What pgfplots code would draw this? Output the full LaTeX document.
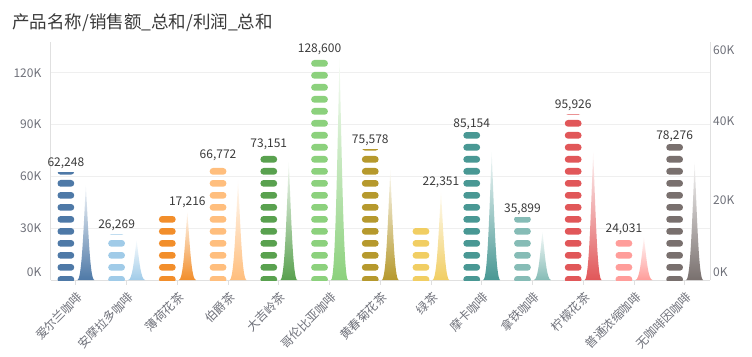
\documentclass[border=0pt]{standalone}
\usepackage{fontspec}
\setmainfont{Noto Sans CJK SC}
\usepackage{pgfplots}
\usepackage{pgfplotstable}
\pgfplotsset{compat=1.18}
\definecolor{c0}{HTML}{4E79A7}
\definecolor{c1}{HTML}{A0CBE8}
\definecolor{c2}{HTML}{F28E2B}
\definecolor{c3}{HTML}{FFBE7D}
\definecolor{c4}{HTML}{59A14F}
\definecolor{c5}{HTML}{8CD17D}
\definecolor{c6}{HTML}{B6992D}
\definecolor{c7}{HTML}{F1CE63}
\definecolor{c8}{HTML}{499894}
\definecolor{c9}{HTML}{86BCB6}
\definecolor{c10}{HTML}{E15759}
\definecolor{c11}{HTML}{FF9D9A}
\definecolor{c12}{HTML}{79706E}
\definecolor{tickc}{HTML}{6E7079}
\definecolor{labc}{HTML}{3A3A3A}
\definecolor{gridc}{HTML}{EFEFEF}
\definecolor{axisc}{HTML}{E0E0E0}
\pgfdeclareplotmark{void}{}
\newcommand\uL{1.72714}
\newcommand\uR{3.96667}
\newcommand\tfont{\fontsize{12bp}{14bp}\selectfont}
% sales and profit in thousands
\pgfplotstableread{
x sales profit slab plab
0 62.248 23.95 62,248 {}
1 26.269 10.1 26,269 {}
2 37.8 17.216 {} 17,216
3 66.772 25.2 66,772 {}
4 73.151 29.8 73,151 {}
5 128.6 56.0 128,600 {}
6 75.578 27.7 75,578 {}
7 31.0 22.351 {} 22,351
8 85.154 32.3 85,154 {}
9 35.899 12.2 35,899 {}
10 95.926 32.3 95,926 {}
11 24.031 10.9 24,031 {}
12 78.276 29.8 78,276 {}
}\salesprofit
\begin{document}
\begin{tikzpicture}
\useasboundingbox (-50.5bp,-77bp) rectangle (701.5bp,280bp);
\node[anchor=west, inner sep=0pt, font=\fontsize{17.5bp}{20bp}\selectfont, text=labc] at (-38.5bp,257.5bp) {产品名称/销售额\_总和/利润\_总和};
\begin{axis}[
  scale only axis, width=659.5bp, height=238bp,
  xmin=-0.5, xmax=12.5, ymin=0, ymax=137.8,
  clip=false,
  axis x line*=bottom, axis y line*=left,
  axis line style={draw=axisc, line width=0.8bp},
  xtick={0,...,12},
  xticklabels={爱尔兰咖啡,安摩拉多咖啡,薄荷花茶,伯爵茶,大吉岭茶,哥伦比亚咖啡,黄春菊花茶,绿茶,摩卡咖啡,拿铁咖啡,柠檬花茶,普通浓缩咖啡,无咖啡因咖啡},
  x tick style={draw=axisc, line width=0.8bp},
  tick align=outside,
  major tick length=5bp,
  xticklabel style={font=\tfont, text=tickc, inner sep=0pt, anchor=east, xshift=4.5bp, yshift=-10bp, rotate=45},
  ytick={30,60,90,120}, yticklabels={30K,60K,90K,120K},
  extra y ticks={0}, extra y tick labels={0K},
  extra y tick style={yticklabel style={yshift=8bp}, grid=none},
  y tick style={draw=none},
  ymajorgrids, grid style={draw=gridc, line width=0.8bp},
  yticklabel style={font=\tfont, text=tickc, inner sep=0pt, anchor=east, xshift=-4bp},
]
\addplot[scatter, only marks, mark=void, draw=none,
  visualization depends on={y \as \sv},
  visualization depends on={x \as \xv},
  scatter/@pre marker code/.code={%
    \begin{scope}
      \pgfkeys{/pgf/fpu=true,/pgf/fpu/output format=fixed}%
      \pgfmathparse{\sv*\uL}\let\hh\pgfmathresult
      \pgfmathparse{\xv}\let\xf\pgfmathresult
      \pgfkeys{/pgf/fpu=false}%
      \pgfmathtruncatemacro\ci{round(\xf)}%
      \def\cname{c\ci}%
      \path[clip, draw=none] (-18.35bp,0bp) rectangle (-1.65bp,-\hh bp);
      \foreach \k in {0,...,20}{%
        \pgfmathsetmacro\yy{-\hh+12*\k-2.7}%
        \path[fill=\cname, draw=none, rounded corners=3.2bp] (-18.35bp,\yy bp) rectangle ++(16.7bp,6.7bp);
      }
    \end{scope}
  },
  scatter/@post marker code/.code={},
] table[x=x,y=sales] \salesprofit;
\addplot[draw=none, mark=none, nodes near coords, point meta=explicit symbolic,
  nodes near coords style={font=\tfont, text=labc, xshift=-10bp}]
  table[x=x,y=sales,meta=slab] \salesprofit;
\end{axis}
\begin{axis}[
  scale only axis, width=659.5bp, height=238bp,
  xmin=-0.5, xmax=12.5, ymin=0, ymax=60,
  clip=false,
  axis x line=none, axis y line*=right,
  axis line style={draw=axisc, line width=0.8bp},
  ytick={20,40}, yticklabels={20K,40K},
  extra y ticks={0}, extra y tick labels={0K},
  extra y tick style={yticklabel style={yshift=8bp}},
  y tick style={draw=none},
  yticklabel style={font=\tfont, text=tickc, inner sep=0pt, anchor=west, xshift=3bp},
]
\addplot[scatter, only marks, mark=void, draw=none,
  visualization depends on={y \as \pv},
  visualization depends on={x \as \xv},
  scatter/@pre marker code/.code={%
    \begin{scope}
      \pgfkeys{/pgf/fpu=true,/pgf/fpu/output format=fixed}%
      \pgfmathparse{\pv*\uR}\let\hh\pgfmathresult
      \pgfmathparse{\pv*\uR/2}\let\hm\pgfmathresult
      \pgfmathparse{\xv}\let\xf\pgfmathresult
      \pgfkeys{/pgf/fpu=false}%
      \pgfmathtruncatemacro\ci{round(\xf)}%
      \def\cname{c\ci}%
      \path[draw=none, top color=\cname!6, middle color=\cname, bottom color=\cname]
        (18.5bp,-\hh bp) .. controls (14.25bp,-\hh bp) and (12.55bp,-\hm bp) .. (10bp,0bp)
        .. controls (7.45bp,-\hm bp) and (5.75bp,-\hh bp) .. (1.5bp,-\hh bp) -- cycle;
    \end{scope}
  },
  scatter/@post marker code/.code={},
] table[x=x,y=profit] \salesprofit;
\addplot[draw=none, mark=none, nodes near coords, point meta=explicit symbolic,
  nodes near coords style={font=\tfont, text=labc, xshift=10bp}]
  table[x=x,y=profit,meta=plab] \salesprofit;
\end{axis}
\begin{axis}[
  scale only axis, width=659.5bp, height=238bp,
  xmin=-0.5, xmax=12.5, ymin=0, ymax=60,
  axis x line=none, axis y line*=right,
  axis line style={draw=none},
  ytick={60}, yticklabels={60K},
  y tick style={draw=none},
  yticklabel style={font=\tfont, text=tickc, inner sep=0pt, anchor=west, xshift=3bp, yshift=-8bp},
]
\end{axis}
\end{tikzpicture}
\end{document}
